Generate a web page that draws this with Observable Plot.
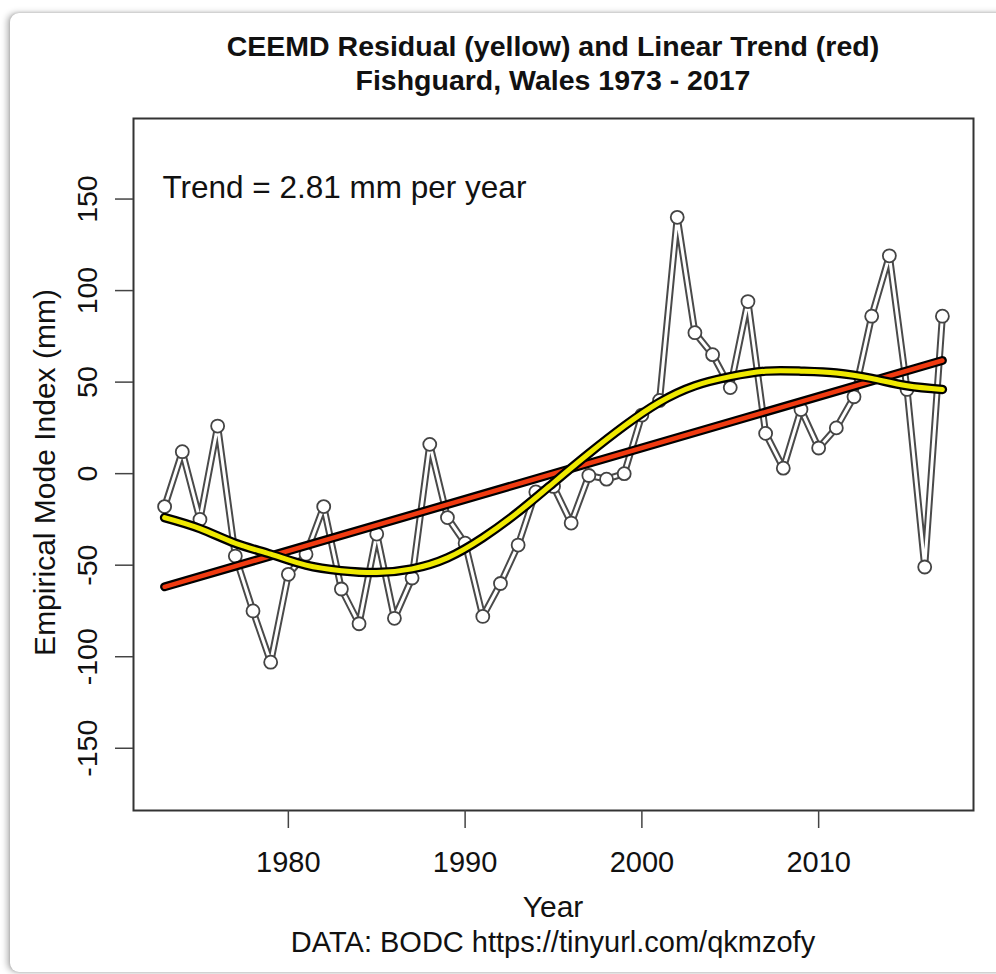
<!DOCTYPE html>
<html>
<head>
<meta charset="utf-8">
<script src="https://cdn.jsdelivr.net/npm/d3@7"></script>
<script src="https://cdn.jsdelivr.net/npm/@observablehq/plot@0.6"></script>
<style>
  html, body { margin: 0; padding: 0; background: #ffffff; width: 996px; height: 974px; overflow: hidden; }
  #card { position: absolute; left: 10px; top: 13px; width: 1000px; height: 959px; background: #fff;
          border-radius: 9px; box-shadow: -3px 0 6px rgba(0,0,0,0.28), 0 0 3px rgba(0,0,0,0.18); }
  #chart { position: absolute; left: 0; top: 0; }
  .t { position: absolute; left: 133px; width: 840px; text-align: center; font-family: "Liberation Sans", Arial, sans-serif; color: #111; white-space: nowrap; }
  .title { font-weight: bold; font-size: 28.5px; }
</style>
</head>
<body>
<div id="card"></div>
<div id="chart"></div>
<div class="t title" style="top:30px;">CEEMD Residual (yellow) and Linear Trend (red)</div>
<div class="t title" style="top:64px;">Fishguard, Wales 1973 - 2017</div>
<div class="t" style="top:890px;font-size:30px;">Year</div>
<div class="t" style="top:926px;font-size:29px;">DATA: BODC https://tinyurl.com/qkmzofy</div>
<script>
// ---- data ----
const years = [1973,1974,1975,1976,1977,1978,1979,1980,1981,1982,1983,1984,1985,1986,1987,1988,1989,1990,1991,1992,1993,1994,1995,1996,1997,1998,1999,2000,2001,2002,2003,2004,2005,2006,2007,2008,2009,2010,2011,2012,2013,2014,2015,2016,2017];
const index = [-18,12,-25,26,-45,-75,-103,-55,-44,-18,-63,-82,-33,-79,-57,16,-24,-38,-78,-60,-39,-10,-7,-27,-1,-3,0,32,40,140,77,65,47,94,22,3,35,14,25,42,86,119,46,-51,86];

const residualYears  = [1973,1975,1977,1979,1981,1983,1985,1987,1989,1991,1993,1995,1997,1999,2001,2003,2005,2007,2009,2011,2013,2015,2017];
const residualValues = [-24,-30,-38,-44,-50,-53,-54,-52,-46,-35,-21,-5,11,26,39,48,53,56,56,55,52,48,46];

const trendYears  = [1973, 2017];
const trendValues = [-61.8, 61.8];

const xTicks = [1980, 1990, 2000, 2010];
const yTicks = [-150, -100, -50, 0, 50, 100, 150];
const trendLabel = "Trend = 2.81 mm per year";
const yLabel = "Empirical Mode Index (mm)";

// ---- tables ----
const obs = years.map((y, i) => ({year: y, value: index[i]}));
const resid = residualYears.map((y, i) => ({year: y, value: residualValues[i]}));
const trend = trendYears.map((y, i) => ({year: y, value: trendValues[i]}));

const font = "Liberation Sans, Arial, sans-serif";

const chart = Plot.plot({
  width: 996,
  height: 974,
  marginLeft: 133,
  marginRight: 23,
  marginTop: 118,
  marginBottom: 164,
  style: { fontFamily: font, color: "#111", background: "transparent", overflow: "visible" },
  x: { domain: [1971.24, 2018.76] },
  y: { domain: [-184, 194] },
  marks: [
    Plot.frame({ stroke: "#333", strokeWidth: 2 }),
    Plot.axisX({ ticks: xTicks, tickSize: 18, tickPadding: 23, fontSize: 29, label: null, stroke: "#444", strokeWidth: 1.5, tickFormat: d => String(d) }),
    Plot.axisY({ ticks: yTicks, tickSize: 18, tickFormat: () => "", label: null, stroke: "#444", strokeWidth: 1.5 }),
    Plot.text(yTicks, { y: d => d, text: d => String(d), frameAnchor: "left", textAnchor: "middle", lineAnchor: "middle", dx: -46, rotate: -90, fontSize: 28.5, fill: "#111" }),
    Plot.text([trendLabel], { text: d => d, frameAnchor: "top-left", dx: 29, dy: 69, textAnchor: "start", lineAnchor: "middle", fontSize: 31.5, fill: "#111" }),
    Plot.text([yLabel], { text: d => d, frameAnchor: "left", textAnchor: "middle", lineAnchor: "middle", dx: -88, dy: 8, rotate: -90, fontSize: 30, fill: "#111" }),
    // observed series: hollow gray line + open circles
    Plot.line(obs, { x: "year", y: "value", stroke: "#4a4a4a", strokeWidth: 7 }),
    Plot.line(obs, { x: "year", y: "value", stroke: "#ffffff", strokeWidth: 3 }),
    Plot.dot(obs, { x: "year", y: "value", r: 6.5, fill: "#fff", stroke: "#444", strokeWidth: 1.8 }),
    // linear trend (red)
    Plot.line(trend, { x: "year", y: "value", stroke: "#000", strokeWidth: 9 }),
    Plot.line(trend, { x: "year", y: "value", stroke: "#f03a10", strokeWidth: 4.5 }),
    // CEEMD residual (yellow)
    Plot.line(resid, { x: "year", y: "value", curve: "natural", stroke: "#000", strokeWidth: 9.5, strokeLinecap: "round" }),
    Plot.line(resid, { x: "year", y: "value", curve: "natural", stroke: "#efe900", strokeWidth: 5, strokeLinecap: "round" })
  ]
});
document.getElementById("chart").appendChild(chart);
</script>
</body>
</html>
